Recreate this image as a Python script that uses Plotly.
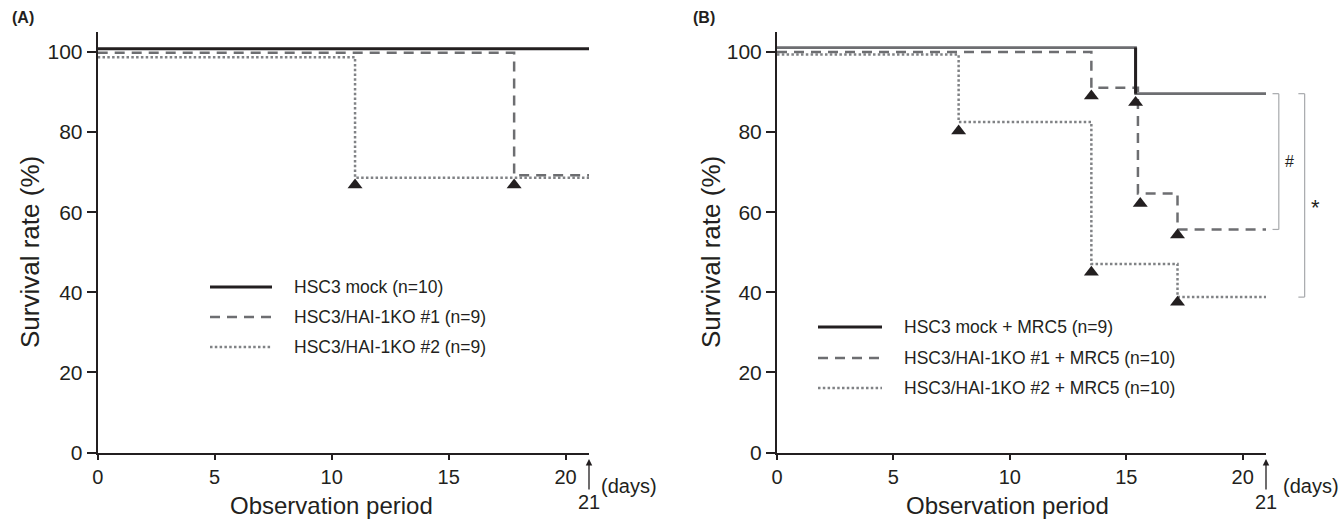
import plotly.graph_objects as go

W, H = 1343, 519

# ---------------- data ----------------
# Panel A
a_mock_days = [0, 21]
a_mock_surv = [100.8, 100.8]
a_ko1_days = [0, 17.8, 21]
a_ko1_surv = [99.8, 69.2, 69.2]
a_ko2_days = [0, 11.0, 21]
a_ko2_surv = [98.7, 68.6, 68.6]
a_event_days = [11.0, 17.8]
a_event_surv = [66.8, 66.8]

# Panel B
b_mock_days = [0, 15.4, 21]
b_mock_surv = [101.1, 89.6, 89.6]
b_ko1_days = [0, 13.5, 15.5, 17.2, 21]
b_ko1_surv = [100.0, 91.1, 64.7, 55.7, 55.7]
b_ko2_days = [0, 7.8, 13.5, 17.2, 21]
b_ko2_surv = [99.4, 82.5, 47.1, 38.8, 38.8]
b_event_days = [7.8, 13.5, 13.5, 15.4, 15.6, 17.2, 17.2]
b_event_surv = [80.3, 89.0, 45.0, 87.4, 62.2, 54.3, 37.5]

a_legend = ["HSC3 mock (n=10)", "HSC3/HAI-1KO #1 (n=9)", "HSC3/HAI-1KO #2 (n=9)"]
b_legend = ["HSC3 mock + MRC5 (n=9)", "HSC3/HAI-1KO #1 + MRC5 (n=10)",
            "HSC3/HAI-1KO #2 + MRC5 (n=10)"]
sig_labels = ["#", "*"]

x_ticks = [0, 5, 10, 15, 20]
y_ticks = [0, 20, 40, 60, 80, 100]
x_max = 21
y_max = 105

# ---------------- styles ----------------
INK = "#231f20"
GRAY = "#6d6e71"
DOTGRAY = "#808285"
BRK = "#a7a9ac"
SANS = "Liberation Sans, Arial, sans-serif"
NARROW = "Liberation Sans Narrow, Arial Narrow, Liberation Sans, sans-serif"
DASH = "10px,7px"
DOT = "2.5px,2.3px"

dom_a = [97.7 / W, 589.0 / W]
dom_b = [777.0 / W, 1266.0 / W]
dom_y = [1 - 452.5 / H, 1 - 32.0 / H]


def px_x(p):
    return p / W


def px_y(p):
    return 1 - p / H


def dx(dom, d):
    return dom[0] + d / x_max * (dom[1] - dom[0])


def dy(v):
    return dom_y[0] + v / y_max * (dom_y[1] - dom_y[0])


fig = go.Figure()


def step(x, y, xa, ya, color, width, dash="solid"):
    fig.add_trace(go.Scatter(x=x, y=y, mode="lines", line_shape="hv",
                             line=dict(color=color, width=width, dash=dash),
                             xaxis=xa, yaxis=ya, showlegend=False, hoverinfo="skip"))


def events(x, y, xa, ya):
    fig.add_trace(go.Scatter(x=x, y=y, mode="markers",
                             marker=dict(symbol="triangle-up", size=13, color=INK),
                             cliponaxis=False, xaxis=xa, yaxis=ya,
                             showlegend=False, hoverinfo="skip"))


# Panel A
step(a_ko2_days, a_ko2_surv, "x", "y", DOTGRAY, 2.5, DOT)
step(a_ko1_days, a_ko1_surv, "x", "y", GRAY, 2.5, DASH)
step(a_mock_days, a_mock_surv, "x", "y", INK, 3)
events(a_event_days, a_event_surv, "x", "y")

# Panel B
step(b_ko2_days, b_ko2_surv, "x2", "y2", DOTGRAY, 2.5, DOT)
step(b_ko1_days, b_ko1_surv, "x2", "y2", GRAY, 2.5, DASH)
step(b_mock_days, b_mock_surv, "x2", "y2", GRAY, 2.6)
fig.add_trace(go.Scatter(x=[b_mock_days[1], b_mock_days[1]],
                         y=[b_mock_surv[0], b_mock_surv[1]], mode="lines",
                         line=dict(color=INK, width=3), xaxis="x2", yaxis="y2",
                         showlegend=False, hoverinfo="skip"))
events(b_event_days, b_event_surv, "x2", "y2")

axis_common = dict(showline=True, linecolor=INK, linewidth=2, ticks="outside",
                   tickcolor=INK, tickwidth=1.5, showgrid=False, zeroline=False,
                   fixedrange=True, automargin=False)
xfont = dict(family=NARROW, size=20, color=INK)
yfont = dict(family=SANS, size=21, color=INK)

fig.update_layout(
    width=W, height=H, autosize=False,
    margin=dict(l=0, r=0, t=0, b=0, pad=0),
    paper_bgcolor="white", plot_bgcolor="white",
    xaxis=dict(domain=dom_a, range=[0, x_max], anchor="y", tickvals=x_ticks,
               ticklen=5, tickfont=xfont, **axis_common),
    yaxis=dict(domain=dom_y, range=[0, y_max], anchor="x", tickvals=y_ticks,
               ticklen=9, tickfont=yfont, **axis_common),
    xaxis2=dict(domain=dom_b, range=[0, x_max], anchor="y2", tickvals=x_ticks,
                ticklen=5, tickfont=xfont, **axis_common),
    yaxis2=dict(domain=dom_y, range=[0, y_max], anchor="x2", tickvals=y_ticks,
                ticklen=9, tickfont=yfont, **axis_common),
)

ann = []
shapes = []


def text(t, x, y, size, family=SANS, xanchor="center", yanchor="middle", **kw):
    d = dict(text=t, x=x, y=y, xref="paper", yref="paper", xanchor=xanchor,
             yanchor=yanchor, showarrow=False,
             font=dict(family=family, size=size, color=INK))
    d.update(kw)
    ann.append(d)


# panel labels
text("<b>(A)</b>", px_x(10), px_y(18), 16, xanchor="left")
text("<b>(B)</b>", px_x(691), px_y(18), 16, xanchor="left")

for xa, dom, ytx, xtx, daysx in [("x", dom_a, 30, 331, 629), ("x2", dom_b, 711, 1008, 1311)]:
    text("Survival rate (%)", px_x(ytx), px_y(252), 26, textangle=-90)
    text("Observation period", px_x(xtx), px_y(505), 24)
    text("(days)", px_x(daysx), px_y(486), 20)
    ann.append(dict(text=str(x_max), x=x_max, y=px_y(459), xref=xa, yref="paper",
                    showarrow=True, ax=0, ay=43, arrowhead=2, arrowsize=1,
                    arrowwidth=1.3, arrowcolor=INK,
                    font=dict(family=NARROW, size=20, color=INK)))

# manual legends
leg_styles = [(INK, 3, "solid"), (GRAY, 2.5, DASH), (DOTGRAY, 2.5, DOT)]
for labels, rows, x0, x1, tx in [(a_legend, [287, 317, 347], 210, 272, 292),
                                 (b_legend, [327, 358, 388], 818, 882, 902)]:
    for lab, ry, (c, w, d) in zip(labels, rows, leg_styles):
        shapes.append(dict(type="line", xref="paper", yref="paper",
                           x0=px_x(x0), x1=px_x(x1), y0=px_y(ry), y1=px_y(ry),
                           line=dict(color=c, width=w, dash=d)))
        text(lab, px_x(tx), px_y(ry), 17.5, xanchor="left")

# significance brackets (panel B), tied to final survival values
top_v = b_mock_surv[-1]
for lab, low_v, bx, fsize, shift in [(sig_labels[0], b_ko1_surv[-1], 21.55, 16, 0),
                                     (sig_labels[1], b_ko2_surv[-1], 22.66, 22, -3)]:
    xp = dx(dom_b, bx)
    xt = dx(dom_b, bx - 0.27)
    for v in (top_v, low_v):
        shapes.append(dict(type="line", xref="paper", yref="paper", x0=xt, x1=xp,
                           y0=dy(v), y1=dy(v), line=dict(color=BRK, width=1.2)))
    shapes.append(dict(type="line", xref="paper", yref="paper", x0=xp, x1=xp,
                       y0=dy(top_v), y1=dy(low_v), line=dict(color=BRK, width=1.2)))
    text(lab, xp + 4 / W, dy((top_v + low_v) / 2 + shift), fsize, xanchor="left")

fig.update_layout(annotations=ann, shapes=shapes)
fig.write_html("out.html", config={"displayModeBar": False},
               post_script="document.body.style.margin='0px';")
